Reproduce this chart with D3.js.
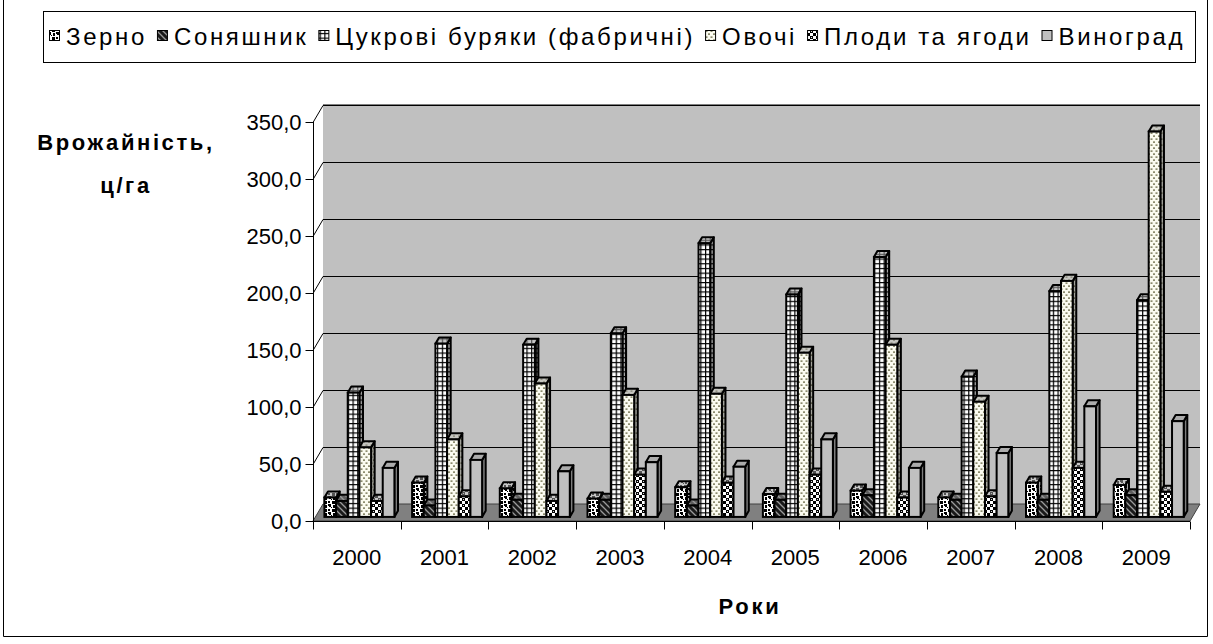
<!DOCTYPE html>
<html>
<head>
<meta charset="utf-8">
<script src="https://cdn.jsdelivr.net/npm/d3@7"></script>
<style>
  body { margin: 0; background: #fff; }
  svg text { font-family: "Liberation Sans", Arial, sans-serif; }
</style>
</head>
<body>
<svg id="mainSVG" width="1213" height="644"></svg>
<script>
// data (ц/га)
var years = ["2000","2001","2002","2003","2004","2005","2006","2007","2008","2009"];
var seriesNames = ["Зерно","Соняшник","Цукрові буряки (фабричні)","Овочі","Плоди та ягоди","Виноград"];
var grain      = [17, 30, 25, 16, 26, 20, 23, 17, 30, 28];
var sunflower  = [14, 10, 15, 15, 10, 15, 19, 15, 15, 19];
var sugarBeet  = [109, 152, 151, 161, 240, 195, 228, 123, 198, 190];
var vegetables = [61, 68, 117, 107, 108, 144, 151, 101, 207, 338];
var fruit      = [14, 18, 14, 37, 30, 37, 17, 18, 43, 22];
var grapes     = [43, 50, 40, 48, 44, 68, 43, 56, 97, 84];
var yTicks = [0, 50, 100, 150, 200, 250, 300, 350];

var allSeries = [grain, sunflower, sugarBeet, vegetables, fruit, grapes];
var patIds = ["pGrain","pSun","pBeet","pVeg","pFruit","pGrape"];

var svg = d3.select("#mainSVG");
var defs = svg.append("defs");

// patterns
function pat(id, w, h) {
  return defs.append("pattern").attr("id", id).attr("patternUnits", "userSpaceOnUse")
    .attr("width", w).attr("height", h);
}
var p = pat("pGrain", 8, 8);
p.append("rect").attr("width", 8).attr("height", 8).attr("fill", "#fff");
[[0,0,3,2],[1,2,2,1],[5,1,2,3],[4,5,3,3],[0,5,2,2],[3,3,1,1]].forEach(function(r){
  p.append("rect").attr("x", r[0]).attr("y", r[1]).attr("width", r[2]).attr("height", r[3]).attr("fill", "#000");
});
p = pat("pSun", 6, 6);
p.append("rect").attr("width", 6).attr("height", 6).attr("fill", "#1a1a1a");
p.append("path").attr("d", "M0,0L6,6M-3,3L3,9M3,-3L9,3").attr("stroke", "#9a9a9a").attr("stroke-width", 1.3);
p = pat("pBeet", 4.7, 4.7);
p.append("rect").attr("width", 4.7).attr("height", 4.7).attr("fill", "#fff");
p.append("path").attr("d", "M0,0H4.7M0,0V4.7").attr("stroke", "#000").attr("stroke-width", 2.4);
p = pat("pVeg", 5, 6);
p.append("rect").attr("width", 5).attr("height", 6).attr("fill", "#fbfbf0");
p.append("rect").attr("x", 0.5).attr("y", 0.5).attr("width", 2).attr("height", 1.2).attr("fill", "#5c5c36");
p.append("rect").attr("x", 3).attr("y", 3.5).attr("width", 2).attr("height", 1.2).attr("fill", "#5c5c36");
p = pat("pFruit", 6, 6);
p.append("rect").attr("width", 6).attr("height", 6).attr("fill", "#fff");
p.append("rect").attr("width", 3).attr("height", 3).attr("fill", "#000");
p.append("rect").attr("x", 3).attr("y", 3).attr("width", 3).attr("height", 3).attr("fill", "#000");
p.append("circle").attr("cx", 1.5).attr("cy", 1.5).attr("r", 0.6).attr("fill", "#fff");
p = pat("pGrape", 4, 4);
p.append("rect").attr("width", 4).attr("height", 4).attr("fill", "#c0c0c0");

// frame
svg.append("path").attr("d", "M3.5,0V636.5H1207.5V0").attr("fill", "none").attr("stroke", "#000").attr("stroke-width", 1);

// geometry
var depthX = 10, depthY = 17;
var y = d3.scaleLinear().domain([0, 350]).range([521, 122]);
var x0 = d3.scaleBand().domain(years).range([313, 1190]);
var x1 = d3.scaleBand().domain(seriesNames).range([9, 79]);

// back wall
svg.append("rect").attr("x", 313 + depthX).attr("y", y(350) - depthY)
  .attr("width", 877).attr("height", y(0) - y(350)).attr("fill", "#c0c0c0");
svg.append("line").attr("x1", 313 + depthX).attr("x2", 1190 + depthX)
  .attr("y1", y(350) - depthY).attr("y2", y(350) - depthY)
  .attr("stroke", "#808080").attr("stroke-width", 2);

// floor
svg.append("path")
  .attr("d", "M313," + y(0) + "L1190," + y(0) + "L" + (1190 + depthX) + "," + (y(0) - depthY) +
    "L" + (313 + depthX) + "," + (y(0) - depthY) + "Z")
  .attr("fill", "#808080").attr("stroke", "#404040").attr("stroke-width", 1);

// gridlines (side wall diagonal + back wall)
svg.append("g").selectAll("path").data(yTicks.slice(1)).join("path")
  .attr("d", function(d) {
    var yy = Math.round(y(d)) + 0.5;
    return "M313," + yy + "L" + (313 + depthX) + "," + (yy - depthY) + "H" + (1190 + depthX);
  })
  .attr("fill", "none").attr("stroke", "#000").attr("stroke-width", 1);

// y axis
var yAxis = svg.append("g").attr("transform", "translate(313.5,0)")
  .call(d3.axisLeft(y).tickValues(yTicks).tickSize(8).tickPadding(4)
    .tickFormat(function(d) { return d3.format(".1f")(d).replace(".", ","); }));
yAxis.select(".domain").attr("stroke", "#000").attr("d", "M0," + y(350) + "V" + y(0));
yAxis.selectAll("text").attr("font-size", 22).attr("fill", "#000")
  .style("font-family", "'Liberation Sans', Arial, sans-serif");

// x axis
var xAxis = svg.append("g").attr("transform", "translate(0," + (y(0) + 0.5) + ")");
xAxis.append("line").attr("x1", 313).attr("x2", 1190).attr("stroke", "#000");
xAxis.selectAll(".tk").data(years.concat(["end"])).join("line").attr("class", "tk")
  .attr("x1", function(d, i) { return Math.round(313 + i * x0.bandwidth()) + 0.5; })
  .attr("x2", function(d, i) { return Math.round(313 + i * x0.bandwidth()) + 0.5; })
  .attr("y1", 0).attr("y2", 8).attr("stroke", "#000");
xAxis.selectAll("text").data(years).join("text")
  .attr("x", function(d) { return x0(d) + x0.bandwidth() / 2; })
  .attr("y", 43).attr("text-anchor", "middle").attr("font-size", 22).text(function(d) { return d; });

// bars
var bd0 = 0.24, bd1 = 0.6; // depth fractions of bar front/back
var bars = svg.append("g");
years.forEach(function(yr, i) {
  seriesNames.forEach(function(s, k) {
    var v = allSeries[k][i];
    var xl = x0(yr) + x1(s) + depthX * bd0;
    var xr = xl + x1.bandwidth();
    var yb = y(0) - depthY * bd0;
    var yt = y(v) - depthY * bd0;
    var ox = depthX * (bd1 - bd0), oy = depthY * (bd1 - bd0);
    var g = bars.append("g");
    var fill = "url(#" + patIds[k] + ")";
    // side
    var side = "M" + xr + "," + yb + "L" + (xr + ox) + "," + (yb - oy) + "L" + (xr + ox) + "," + (yt - oy) + "L" + xr + "," + yt + "Z";
    g.append("path").attr("d", side).attr("fill", fill);
    g.append("path").attr("d", side).attr("fill", "#000").attr("fill-opacity", 0.35)
      .attr("stroke", "#000").attr("stroke-width", 2).attr("stroke-linejoin", "round");
    // top
    var top = "M" + xl + "," + yt + "L" + (xl + ox) + "," + (yt - oy) + "L" + (xr + ox) + "," + (yt - oy) + "L" + xr + "," + yt + "Z";
    g.append("path").attr("d", top).attr("fill", fill);
    g.append("path").attr("d", top).attr("fill", "#999").attr("fill-opacity", 0.55)
      .attr("stroke", "#000").attr("stroke-width", 2).attr("stroke-linejoin", "round");
    // front
    g.append("rect").attr("x", xl).attr("y", yt).attr("width", xr - xl).attr("height", yb - yt)
      .attr("fill", fill).attr("stroke", "#000").attr("stroke-width", 2);
  });
});

// axis titles
var yTitle = svg.append("text").attr("x", 126).attr("font-size", 22).attr("font-weight", "bold")
  .attr("text-anchor", "middle").style("letter-spacing", "2.6px");
yTitle.append("tspan").attr("x", 126).attr("y", 150).text("Врожайність,");
yTitle.append("tspan").attr("x", 126).attr("y", 193).text("ц/га");
svg.append("text").attr("x", 750).attr("y", 614).attr("font-size", 22).attr("font-weight", "bold")
  .attr("text-anchor", "middle").style("letter-spacing", "2.7px").text("Роки");

// legend
var leg = svg.append("g");
leg.append("rect").attr("x", 43.5).attr("y", 11.5).attr("width", 1152).attr("height", 51)
  .attr("fill", "#fff").attr("stroke", "#000");
var legTexts = [];
seriesNames.forEach(function(s, k) {
  legTexts.push(leg.append("text").attr("y", 45).attr("font-size", 24).text(s));
});
// spread the letters so the row fills the box as in the picture
var natural = 0, nChars = 0;
legTexts.forEach(function(t, k) { natural += t.node().getComputedTextLength(); nChars += seriesNames[k].length; });
var iconW = 17, gap = 10;
var spacing = (1185 - 49 - seriesNames.length * iconW - (seriesNames.length - 1) * gap - natural) / nChars;
var lx = 49;
legTexts.forEach(function(t, k) {
  leg.append("rect").attr("x", lx + 0.5).attr("y", 30.5).attr("width", 10).attr("height", 10)
    .attr("fill", "url(#" + patIds[k] + ")").attr("stroke", "#000");
  t.style("letter-spacing", spacing + "px").attr("x", lx + iconW);
  lx += iconW + t.node().getComputedTextLength() + gap;
});
</script>
</body>
</html>
